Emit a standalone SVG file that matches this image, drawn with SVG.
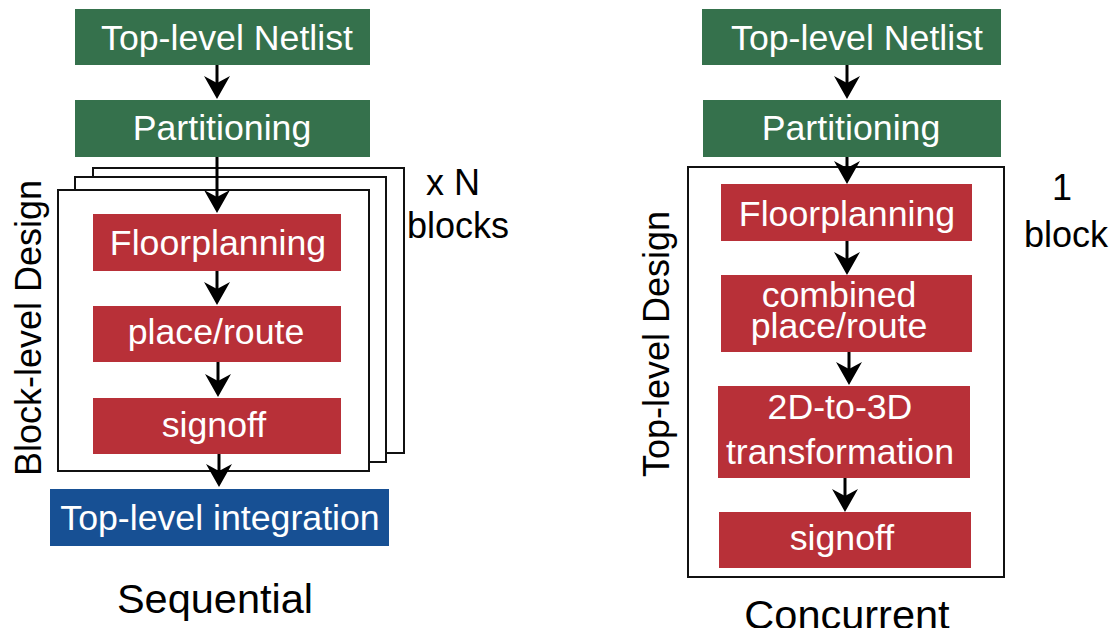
<svg xmlns="http://www.w3.org/2000/svg" width="1113" height="628" viewBox="0 0 1113 628">
  <defs>
    <style>
      .green { fill: #35714C; }
      .red { fill: #B83038; }
      .blue { fill: #175094; }
      .frame { fill: #ffffff; stroke: #111111; stroke-width: 2; }
      .lbl { font-family: "Liberation Sans", Arial, sans-serif; font-size: 35.7px; fill: #ffffff; text-anchor: middle; }
      .note { font-family: "Liberation Sans", Arial, sans-serif; font-size: 36px; fill: #000000; }
      .title { font-family: "Liberation Sans", Arial, sans-serif; font-size: 41.5px; fill: #000000; text-anchor: middle; }
      .conn { stroke: #000000; stroke-width: 3; fill: none; marker-end: url(#head); }
    </style>
    <!-- notched arrowhead; tip sits 10px beyond the line end -->
    <marker id="head" viewBox="0 0 24 26" refX="13" refY="13" markerWidth="24" markerHeight="26" markerUnits="userSpaceOnUse" orient="auto">
      <path d="M0,0 L23,13 L0,26 L7,13 Z" fill="#000000"/>
    </marker>
  </defs>

  <!-- ===== Sequential flow ===== -->
  <g id="seq-frames">
    <rect class="frame" x="93" y="168" width="311" height="285"/>
    <rect class="frame" x="75" y="177" width="311" height="285"/>
    <rect class="frame" x="58" y="190" width="311" height="281"/>
  </g>

  <g id="seq-netlist">
    <rect class="green" x="75" y="9" width="295" height="56"/>
    <text class="lbl" x="227" y="50">Top-level Netlist</text>
  </g>
  <g id="seq-partitioning">
    <rect class="green" x="75" y="100" width="295" height="57"/>
    <text class="lbl" x="222" y="140">Partitioning</text>
  </g>
  <g id="seq-floorplanning">
    <rect class="red" x="93" y="214" width="248" height="57"/>
    <text class="lbl" x="218" y="255">Floorplanning</text>
  </g>
  <g id="seq-placeroute">
    <rect class="red" x="93" y="306" width="248" height="56"/>
    <text class="lbl" x="216" y="344">place/route</text>
  </g>
  <g id="seq-signoff">
    <rect class="red" x="93" y="398" width="248" height="56"/>
    <text class="lbl" x="214" y="437">signoff</text>
  </g>
  <g id="seq-integration">
    <rect class="blue" x="50" y="489" width="339" height="57"/>
    <text class="lbl" x="220" y="530">Top-level integration</text>
  </g>

  <g id="seq-notes">
    <text class="note" x="426" y="195">x N</text>
    <text class="note" x="407" y="238">blocks</text>
    <text class="note" text-anchor="middle" transform="translate(41,328) rotate(-90)">Block-level Design</text>
    <text class="title" x="215" y="613">Sequential</text>
  </g>

  <!-- ===== Concurrent flow ===== -->
  <g id="con-frame">
    <rect class="frame" x="688" y="167" width="316" height="410"/>
  </g>

  <g id="con-netlist">
    <rect class="green" x="702" y="9" width="299" height="56"/>
    <text class="lbl" x="857" y="50">Top-level Netlist</text>
  </g>
  <g id="con-partitioning">
    <rect class="green" x="703" y="100" width="298" height="57"/>
    <text class="lbl" x="851" y="140">Partitioning</text>
  </g>
  <g id="con-floorplanning">
    <rect class="red" x="721" y="184" width="251" height="57"/>
    <text class="lbl" x="847" y="226">Floorplanning</text>
  </g>
  <g id="con-placeroute">
    <rect class="red" x="721" y="275" width="251" height="77"/>
    <text class="lbl" x="839" y="307">combined</text>
    <text class="lbl" x="839" y="338">place/route</text>
  </g>
  <g id="con-transform">
    <rect class="red" x="718" y="386" width="252" height="92"/>
    <text class="lbl" x="840" y="419">2D-to-3D</text>
    <text class="lbl" x="840" y="464">transformation</text>
  </g>
  <g id="con-signoff">
    <rect class="red" x="719" y="512" width="252" height="56"/>
    <text class="lbl" x="842" y="550">signoff</text>
  </g>

  <g id="con-notes">
    <text class="note" text-anchor="middle" x="1062" y="200">1</text>
    <text class="note" x="1024" y="247">block</text>
    <text class="note" text-anchor="middle" transform="translate(669,344) rotate(-90)">Top-level Design</text>
    <text class="title" x="847" y="629">Concurrent</text>
  </g>

  <!-- ===== connectors ===== -->
  <g id="connectors">
    <line class="conn" x1="217" y1="65" x2="217" y2="89"/>
    <line class="conn" x1="217" y1="157" x2="217" y2="203"/>
    <line class="conn" x1="217" y1="271" x2="217" y2="295"/>
    <line class="conn" x1="218" y1="362" x2="218" y2="387"/>
    <line class="conn" x1="219" y1="454" x2="219" y2="477"/>

    <line class="conn" x1="847" y1="65" x2="847" y2="89"/>
    <line class="conn" x1="847" y1="157" x2="847" y2="174"/>
    <line class="conn" x1="847" y1="241" x2="847" y2="265"/>
    <line class="conn" x1="849" y1="352" x2="849" y2="375"/>
    <line class="conn" x1="845" y1="478" x2="845" y2="502"/>
  </g>
</svg>
